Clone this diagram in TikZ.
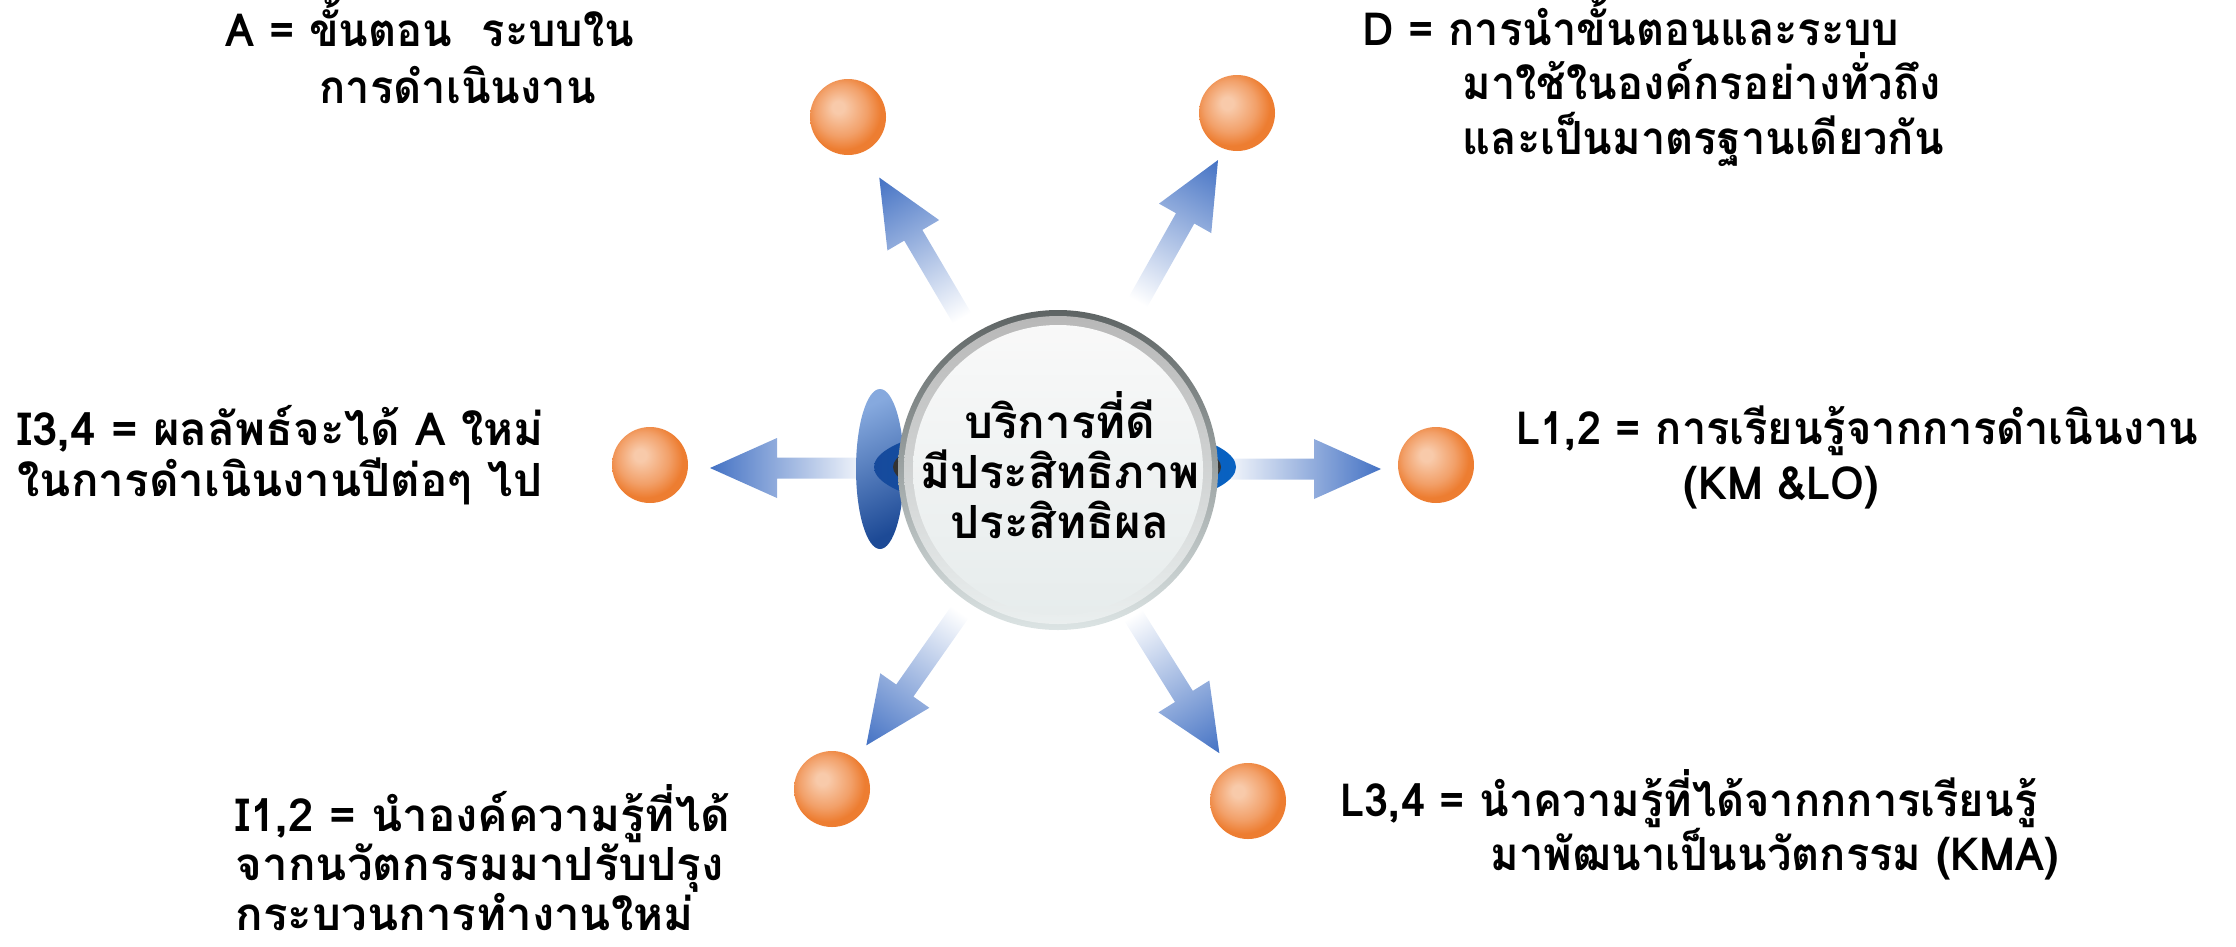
\documentclass[tikz,border=0pt]{standalone}
\usepackage{fontspec}
\usepackage{tikz}
\usetikzlibrary{positioning}
\newfontfamily\thaifont[Script=Thai]{Loma}
\newfontfamily\thainarrow[Script=Thai,FakeStretch=0.95]{Loma}
\definecolor{arrowblue}{HTML}{4472C4}
\definecolor{ballout}{HTML}{ED7D31}
\definecolor{ballmid}{HTML}{F2A069}
\definecolor{ballhi}{HTML}{F8CAAA}
\definecolor{lenslight}{HTML}{86A9DE}
\definecolor{lensdark}{HTML}{1D4A96}
\definecolor{bandleft}{HTML}{164A9C}
\definecolor{bandright}{HTML}{0862C2}
\definecolor{rimdark}{HTML}{5E6464}
\definecolor{rimlight}{HTML}{DCE4E4}
\pgfdeclareradialshading{orangeball}{\pgfpoint{-7bp}{7bp}}{color(0bp)=(ballhi); color(4bp)=(ballhi); color(17bp)=(ballmid); color(25bp)=(ballout); color(50bp)=(ballout)}
% one fat arrow, tail at the origin, pointing along x
\newcommand{\spoke}{\shade[fatarrow] (0,-10.5) -- (96,-10.5) -- (96,-30) -- (163,0) -- (96,30) -- (96,10.5) -- (0,10.5) -- cycle;}
% bold 13pt with a given line distance
\newcommand{\lblsize}[1]{\bfseries\fontsize{13}{#1}\selectfont}

\begin{document}
\lineskiplimit=-30pt
\begin{tikzpicture}[x=0.1mm,y=-0.1mm,
    fatarrow/.style={left color=white,right color=arrowblue},
    ball/.style={circle,minimum size=7.6mm,inner sep=0pt,shade,shading=orangeball},
    lbl/.style={align=left,inner sep=0pt,anchor=base west}]
    \useasboundingbox (0,0) rectangle (2236,946);

    % arrows from the hub
    \coordinate (tTL) at (962,318);
    \coordinate (tTR) at (1138,302);
    \coordinate (tL) at (873,468);
    \coordinate (tR) at (1218,469);
    \coordinate (tBL) at (960,612);
    \coordinate (tBR) at (1133,615);
    \begin{scope}[transform canvas={shift={(tTL)},rotate=120.5}] \spoke \end{scope}
    \begin{scope}[transform canvas={shift={(tTR)},rotate=60.6}] \spoke \end{scope}
    \begin{scope}[transform canvas={shift={(tL)},rotate=180}] \spoke \end{scope}
    \begin{scope}[transform canvas={shift={(tR)}}] \spoke \end{scope}
    \begin{scope}[transform canvas={shift={(tBL)},rotate=234.9}] \spoke \end{scope}
    \begin{scope}[transform canvas={shift={(tBR)},rotate=302}] \spoke \end{scope}

    % hub
    \shade[top color=lenslight,bottom color=lensdark,shading angle=25] (880,469) ellipse [x radius=24,y radius=80];
    \shade[left color=bandleft,right color=bandright] (1055,467) ellipse [x radius=181,y radius=47];
    \fill[black!80] (1057,467) ellipse [x radius=164,y radius=39];
    \shade[top color=rimdark,bottom color=rimlight] (1058,470) circle [radius=160];
    \shade[top color=black!28,bottom color=rimlight!60] (1058,470) circle [radius=154];
    \shade[top color=white!95!gray,middle color=black!14,bottom color=rimlight!70] (1058,470) circle [radius=145];
    \node[font={\thaifont\lblsize{14.2}},align=center,inner sep=0pt] (hub) at (1060,465)
        {บริการที่ดี\\มีประสิทธิภาพ\\ประสิทธิผล};

    % balls
    \node[ball] (bTL) at (848,117) {};
    \node[ball] (bTR) at (1237,113) {};
    \node[ball] (bL) at (650,465) {};
    \node[ball] (bR) at (1436,465) {};
    \node[ball] (bBL) at (832,789) {};
    \node[ball] (bBR) at (1248,801) {};

    % labels (base = baseline of the last line)
    \node[lbl,font={\thainarrow\lblsize{16.2}}] (lA) at (225,103) {A = ขั้นตอน\ \ ระบบใน\\\hspace*{9.4mm}การดำเนินงาน};
    \node[lbl,font={\thainarrow\lblsize{15.4}}] (lD) at (1362,154) {D = การนำขั้นตอนและระบบ\\\hspace*{10mm}มาใช้ในองค์กรอย่างทั่วถึง\\\hspace*{10mm}และเป็นมาตรฐานเดียวกัน};
    \node[lbl,font={\thaifont\lblsize{14.5}}] (lI34) at (17,496) {I3,4 = ผลลัพธ์จะได้ A ใหม่\\ในการดำเนินงานปีต่อๆ ไป};
    \node[lbl,font={\thainarrow\lblsize{15.4}}] (lL12) at (1516,499) {L1,2 = การเรียนรู้จากการดำเนินงาน\\\hspace*{16.7mm}(KM \&LO)};
    \node[lbl,font={\thaifont\lblsize{14}}] (lI12) at (235,930) {I1,2 = นำองค์ความรู้ที่ได้\\จากนวัตกรรมมาปรับปรุง\\กระบวนการทำงานใหม่};
    \node[lbl,font={\thainarrow\lblsize{15.1}}] (lL34) at (1340,870) {L3,4 = นำความรู้ที่ได้จากกการเรียนรู้\\\hspace*{15mm}มาพัฒนาเป็นนวัตกรรม (KMA)};
\end{tikzpicture}
\end{document}
